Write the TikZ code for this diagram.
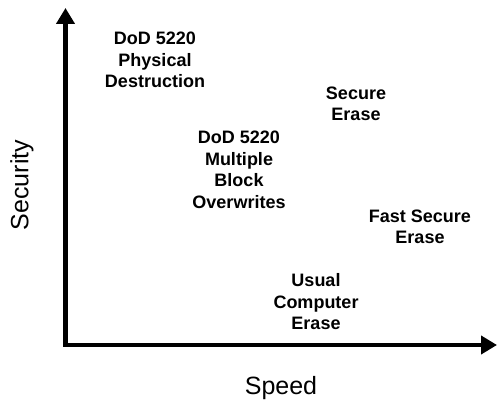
\documentclass[tikz,border=0pt]{standalone}
\usepackage{fontspec}
\setmainfont{Liberation Sans}
\usetikzlibrary{arrows.meta}
\tikzset{
  lbl/.style={font=\bfseries\fontsize{18}{21.5}\selectfont, align=center, inner sep=0pt},
  axislbl/.style={font=\fontsize{25}{29}\selectfont, inner sep=0pt},
  axis/.style={line width=4.5pt, miter limit=10}
}
\begin{document}
\begin{tikzpicture}[x=1pt,y=-1pt]
\useasboundingbox (0,0) rectangle (497,403);
\coordinate (corner) at (65.5,345);
\coordinate (top) at (65.5,8);
\coordinate (right) at (497,345);
\draw[axis, {Triangle[width=18pt,length=16pt]}-{Triangle[width=18pt,length=16pt]}] (top) -- (corner) -- (right);
\node[axislbl] (speed) at (281,388) {Speed};
\node[axislbl, rotate=90] (security) at (22,185) {Security};
\node[lbl] (phys) at (155,60) {DoD 5220\\Physical\\Destruction};
\node[lbl] (secure) at (356,104) {Secure\\Erase};
\node[lbl] (multi) at (239,170) {DoD 5220\\Multiple\\Block\\Overwrites};
\node[lbl] (fast) at (420,227) {Fast Secure\\Erase};
\node[lbl] (usual) at (316,302) {Usual\\Computer\\Erase};
\end{tikzpicture}
\end{document}
